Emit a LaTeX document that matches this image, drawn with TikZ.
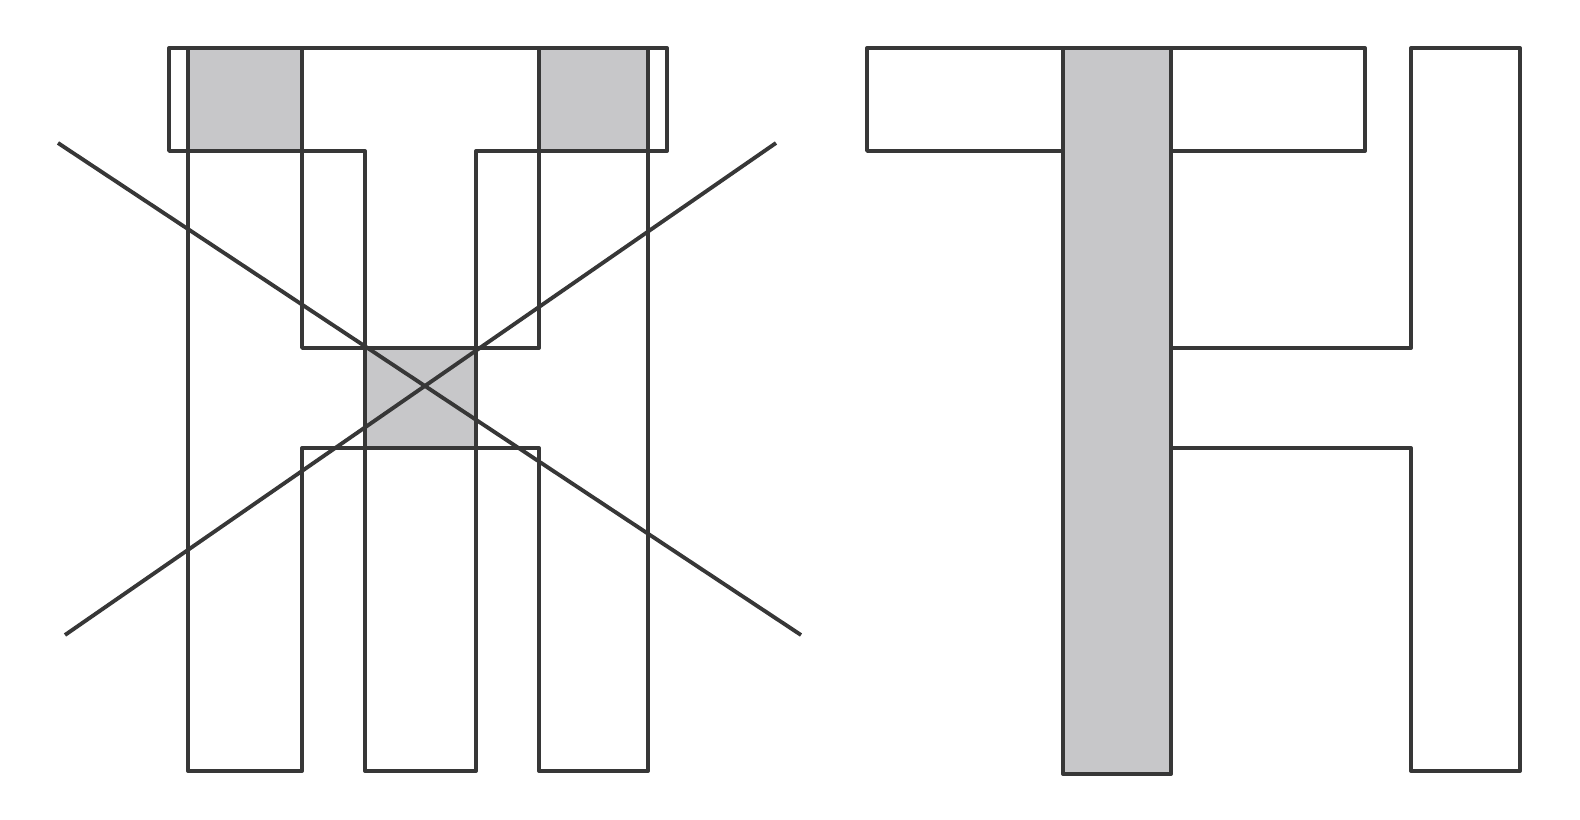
\documentclass[tikz,border=0pt]{standalone}
\definecolor{padgray}{RGB}{199,199,201}
\definecolor{wiregray}{RGB}{55,55,55}

\begin{document}
\begin{tikzpicture}[x=0.1mm, y=-0.1mm, line width=1.1pt, line join=round,
    outline/.style={draw=wiregray},
    pad/.style={fill=padgray}]
      \useasboundingbox (0,0) rectangle (1580,820);

      % left layout: T and H laid over each other, overlaps in gray
      \fill[pad] (188,48) rectangle (302,151);
      \fill[pad] (539,48) rectangle (648,151);
      \fill[pad] (365,348) rectangle (476,448);
      \draw[outline] (188,48) -- (188,771) -- (302,771) -- (302,448)
        -- (539,448) -- (539,771) -- (648,771) -- (648,48) -- (539,48)
        -- (539,348) -- (302,348) -- (302,48) -- cycle;
      \draw[outline] (169,48) -- (667,48) -- (667,151) -- (476,151)
        -- (476,771) -- (365,771) -- (365,151) -- (169,151) -- cycle;

      % crossed out
      \coordinate (tl) at (58,143);
      \coordinate (br) at (801,635);
      \coordinate (bl) at (65,635);
      \coordinate (tr) at (776,143);
      \draw[outline] (tl) -- (br);
      \draw[outline] (bl) -- (tr);

      % right layout: T and H side by side
      \draw[outline] (867,48) rectangle (1365,151);
      \filldraw[pad, outline] (1063,48) rectangle (1171,774);
      \draw[outline] (1171,348) -- (1411,348) -- (1411,48) -- (1520,48)
        -- (1520,771) -- (1411,771) -- (1411,448) -- (1171,448);
    \end{tikzpicture}
\end{document}
